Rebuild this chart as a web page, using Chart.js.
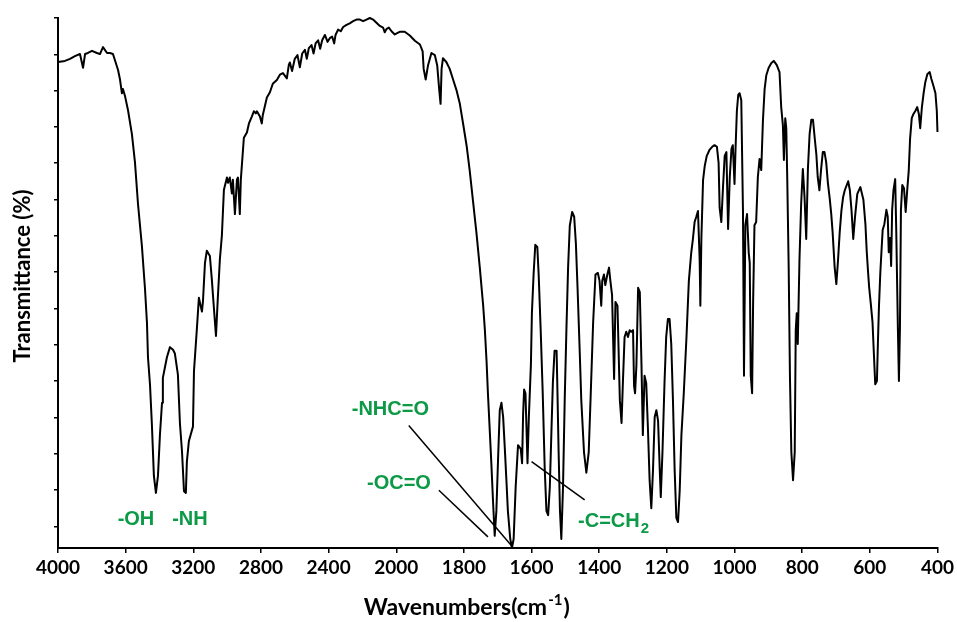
<!DOCTYPE html>
<html><head><meta charset="utf-8">
<script src="https://cdn.jsdelivr.net/npm/chart.js@4.4.1/dist/chart.umd.min.js"></script>
<style>html,body{margin:0;padding:0;background:#fff;}#wrap{width:957px;height:622px;}</style>
</head><body><div id="wrap"><canvas id="c" width="957" height="622"></canvas></div>
<script>
const xTickLabels = ['4000','3600','3200','2800','2400','2000','1800','1600','1400','1200','1000','800','600','400'];
const wavenumbers = [4000,3959,3929,3900,3870,3852,3840,3823,3799,3770,3752,3734,3710,3693,3675,3651,3645,3634,3622,3616,3604,3586,3563,3545,3527,3504,3486,3474,3468,3456,3445,3433,3421,3409,3397,3385,3380,3356,3338,3320,3309,3291,3279,3267,3255,3244,3238,3226,3202,3196,3179,3167,3149,3143,3131,3120,3102,3090,3084,3066,3055,3043,3031,3019,3001,2995,2984,2972,2966,2954,2942,2936,2925,2919,2907,2901,2883,2871,2854,2842,2830,2824,2806,2795,2789,2765,2747,2730,2706,2688,2670,2647,2635,2629,2616,2600,2584,2570,2556,2540,2529,2517,2501,2489,2477,2462,2450,2438,2422,2406,2393,2379,2367,2359,2344,2328,2314,2294,2275,2255,2235,2215,2196,2176,2156,2137,2117,2097,2078,2068,2058,2044,2028,2009,1990,1975,1960,1945,1930,1922,1919,1913,1906,1896,1886,1879,1873,1869,1866,1862,1852,1842,1832,1822,1812,1802,1792,1783,1773,1763,1753,1743,1738,1733,1729,1724,1719,1714,1709,1704,1699,1694,1689,1684,1679,1674,1670,1663,1658,1653,1647,1640,1632,1628,1625,1622,1618,1615,1612,1608,1602,1599,1594,1589,1583,1579,1573,1567,1561,1556,1551,1546,1541,1537,1532,1526,1524,1520,1516,1512,1507,1502,1497,1492,1487,1480,1474,1469,1464,1458,1453,1445,1438,1431,1425,1418,1411,1404,1399,1394,1391,1386,1382,1376,1371,1367,1362,1356,1352,1346,1339,1334,1330,1325,1320,1315,1310,1305,1300,1297,1294,1290,1285,1280,1275,1271,1266,1261,1256,1251,1246,1241,1236,1231,1226,1221,1218,1213,1207,1202,1197,1192,1187,1182,1177,1172,1167,1162,1157,1150,1142,1135,1128,1123,1118,1113,1108,1103,1101,1098,1093,1088,1082,1074,1066,1059,1052,1047,1044,1039,1034,1029,1024,1019,1014,1009,1005,1000,997,993,989,985,980,975,972,968,963,958,955,952,948,945,941,936,931,926,921,916,911,906,899,891,884,875,867,862,857,854,850,847,844,840,836,832,827,822,819,816,813,808,803,798,793,788,783,778,773,768,763,758,754,749,744,739,734,729,724,719,714,710,704,699,694,689,684,679,674,664,659,654,649,644,637,628,619,613,609,605,602,597,592,589,584,579,576,573,569,565,562,557,551,547,544,540,537,534,530,525,522,517,514,511,508,504,499,494,489,485,481,476,471,465,460,455,451,446,441,436,430,423,418,412,406,402,400];
const transmittance = [91.7,91.9,92.3,92.8,93.2,90.6,93.2,93.4,93.8,93.4,93.2,94.5,93.4,93.4,93.2,90.8,90.2,88.5,85.8,86.6,85.3,82.6,78.1,72.8,64.9,57.0,49.1,42.5,36.0,30.8,23.4,13.6,10.4,13.6,21.5,27.4,32.1,36.0,37.9,37.4,36.7,32.7,23.5,18.3,10.7,10.4,16.3,20.2,22.9,33.4,41.3,47.2,44.6,46.5,53.8,56.1,55.1,50.5,47.8,40.0,47.2,54.4,59.0,67.6,69.9,68.9,69.9,66.9,69.5,63.0,69.5,69.9,63.0,69.5,74.8,77.4,78.4,80.1,81.4,82.4,82.0,82.4,81.4,80.1,81.7,85.0,86.0,87.6,88.3,89.3,89.6,88.6,91.2,91.6,90.0,92.3,93.0,90.7,93.3,94.0,92.3,94.3,94.9,93.3,95.2,95.8,94.2,95.8,96.8,95.5,96.2,96.5,95.2,96.8,97.8,97.5,98.3,98.7,99.0,99.4,99.7,99.7,99.4,99.7,100,99.7,99.1,98.5,98.2,97.3,97.9,98.2,97.5,96.9,97.4,97.4,96.7,95.7,95.0,93.7,90.4,88.4,91.1,93.4,93.0,91.1,86.5,83.8,90.4,92.4,91.7,90.4,88.4,86.4,83.8,79.9,75.9,71.3,65.4,59.5,52.9,45.7,41.1,35.2,29.2,22.7,16.1,8.9,2.3,7.0,16.8,26.0,27.4,24.7,18.7,12.3,7.0,1.7,0,1.7,11.5,19.4,18.7,16.0,25.3,29.9,29.2,22.6,16.0,24.7,34.5,44.3,51.6,57.2,56.8,51.6,41.1,29.2,14.8,7.0,6.2,11.5,22.6,31.2,37.2,37.2,31.2,18.1,7.0,1.7,11.5,27.9,41.1,52.9,60.8,63.4,62.5,57.5,49.0,37.8,27.9,18.1,14.2,18.1,29.2,42.5,51.6,51.9,50.4,45.7,50.4,51.6,49.6,51.6,52.9,50.4,47.7,31.9,46.4,45.7,27.9,23.6,31.2,39.8,40.8,39.8,41.1,40.8,41.1,30.6,29.2,34.5,49.1,48.3,34.5,21.3,32.5,31.1,22.6,12.8,7.5,14.7,24.7,26.0,24.0,14.7,9.6,18.1,31.1,39.8,43.2,43.2,38.5,27.9,14.7,5.7,4.9,10.9,21.3,29.2,39.8,50.4,55.7,58.3,61.5,62.5,63.6,54.3,45.7,58.3,69.4,72.1,74.0,75.1,75.7,76.0,75.7,72.6,64.2,61.5,68.1,74.0,74.7,60.2,70.0,75.3,76.0,68.7,75.3,82.5,85.5,85.8,84.5,63.6,32.5,60.9,63.0,55.7,53.8,32.5,29.2,46.4,60.9,61.5,70.0,73.4,71.3,80.6,86.6,89.2,90.6,91.5,91.9,91.1,89.8,83.2,79.8,73.2,81.1,79.2,69.4,53.6,31.9,18.1,12.8,18.1,41.1,44.3,38.5,54.3,64.9,71.5,66.2,58.3,71.5,78.1,80.8,80.8,77.4,74.2,70.0,67.5,71.5,74.7,74.7,72.8,68.9,66.2,63.0,59.6,53.0,49.8,54.3,59.6,63.6,66.2,67.5,69.2,67.5,63.6,58.3,62.3,66.8,68.1,65.7,61.1,55.8,51.9,49.2,46.0,42.6,38.1,30.9,31.5,38.9,45.5,51.9,56.6,60.0,61.1,63.8,62.5,55.8,58.5,53.2,63.8,67.5,69.6,60.4,41.3,31.5,41.3,63.8,68.5,67.9,63.4,67.9,71.1,77.2,81.1,81.9,82.5,83.2,81.9,79.2,83.2,85.8,87.9,89.4,89.8,88.5,87.2,85.8,82.5,78.5];
const yTickStep = 6.85;
const labelTexts = ['-OH','-NH','-NHC=O','-OC=O','-C=CH'];
const labelSubs = ['','','','','2'];
const labelWavenumbers = [3539,3220,2035,1992,1359];
const labelValues = [5.4,5.4,26.2,12.2,5.0];
const leaderStartW = [1963,1874,1600];
const leaderStartT = [23.1,10.9,16.3];
const leaderEndW = [1656,1729,1443];
const leaderEndT = [0.2,2.1,9.1];
const xTitle = 'Wavenumbers(cm';
const xTitleSup = '-1';
const yTitle = 'Transmittance (%)';

// Axis with a change of scale at 2000 cm-1 (400 per step above, 200 per step below)
function toAxis(w){ return w >= 2000 ? (4000 - w) / 400 : 5 + (2000 - w) / 200; }

const GREEN = '#0c9a47';
const TFONT = 'Lato, "Open Sans", sans-serif';
const points = wavenumbers.map((w,i)=>({x: toAxis(w), y: transmittance[i]}));

const annot = {
  id:'annot',
  afterDatasetsDraw(chart){
    const {ctx, scales:{x,y}, chartArea} = chart;
    ctx.save();
    ctx.strokeStyle='#000'; ctx.lineWidth=1.5;
    for(let i=0;i<leaderStartW.length;i++){
      ctx.beginPath();
      ctx.moveTo(x.getPixelForValue(toAxis(leaderStartW[i])), y.getPixelForValue(leaderStartT[i]));
      ctx.lineTo(x.getPixelForValue(toAxis(leaderEndW[i])), y.getPixelForValue(leaderEndT[i]));
      ctx.stroke();
    }
    ctx.fillStyle=GREEN; ctx.textBaseline='middle';
    for(let i=0;i<labelTexts.length;i++){
      const px=x.getPixelForValue(toAxis(labelWavenumbers[i]));
      const py=y.getPixelForValue(labelValues[i]);
      ctx.font='bold 20px "Liberation Sans", Arial, sans-serif';
      const w1=ctx.measureText(labelTexts[i]).width;
      let w2=0;
      if(labelSubs[i]){ ctx.font='bold 15px "Liberation Sans", Arial, sans-serif'; w2=ctx.measureText(labelSubs[i]).width; }
      const start=px-(w1+w2)/2;
      ctx.font='bold 20px "Liberation Sans", Arial, sans-serif';
      ctx.textAlign='left';
      ctx.fillText(labelTexts[i], start, py);
      if(labelSubs[i]){ ctx.font='bold 15px "Liberation Sans", Arial, sans-serif'; ctx.fillText(labelSubs[i], start+w1+1, py+7); }
    }
    // axis titles
    ctx.fillStyle='#000';
    ctx.textBaseline='alphabetic';
    ctx.font='bold 23px '+TFONT;
    const wa=ctx.measureText(xTitle).width;
    ctx.font='bold 15px '+TFONT;
    const wb=ctx.measureText(xTitleSup).width;
    ctx.font='bold 23px '+TFONT;
    const wc=ctx.measureText(')').width;
    const cx=(chartArea.left+chartArea.right)/2-31;
    let sx=cx-(wa+wb+wc+2)/2;
    const by=615;
    ctx.textAlign='left';
    ctx.fillText(xTitle, sx, by);
    ctx.font='bold 15px '+TFONT;
    ctx.fillText(xTitleSup, sx+wa+1, by-10);
    ctx.font='bold 23px '+TFONT;
    ctx.fillText(')', sx+wa+wb+2, by);
    ctx.translate(23,(chartArea.top+chartArea.bottom)/2-7);
    ctx.rotate(-Math.PI/2);
    ctx.textAlign='center'; ctx.textBaseline='middle';
    ctx.font='bold 22px '+TFONT;
    ctx.fillText(yTitle,0,0);
    ctx.restore();
  }
};

function draw(){
  new Chart(document.getElementById('c'),{
    type:'line',
    data:{datasets:[{data:points,borderColor:'#000',borderWidth:2,pointRadius:0,tension:0,fill:false,clip:6,borderJoinStyle:'round'}]},
    options:{
      responsive:false, animation:false, devicePixelRatio:1,
      layout:{padding:{top:18,right:19,left:0,bottom:0}},
      plugins:{legend:{display:false},tooltip:{enabled:false}},
      scales:{
        x:{type:'linear',min:0,max:13,
          afterBuildTicks:(s)=>{s.ticks=xTickLabels.map((l,i)=>({value:i}));},
          afterFit:(s)=>{s.height=74;},
          ticks:{autoSkip:false,maxRotation:0,padding:3,color:'#000',
            font:{family:'Lato',weight:'bold',size:19},
            callback:(v)=>xTickLabels[Math.round(v)]},
          grid:{drawOnChartArea:false,drawTicks:true,tickLength:5,color:'#000',lineWidth:1.5},
          border:{display:true,color:'#000',width:2}},
        y:{type:'linear',min:0,max:100,
          afterBuildTicks:(s)=>{const t=[];for(let v=100;v>=0;v-=yTickStep)t.push({value:v});s.ticks=t;},
          afterFit:(s)=>{s.width=58;},
          ticks:{callback:()=>''},
          grid:{drawOnChartArea:false,drawTicks:true,tickLength:4,color:'#000',lineWidth:1.5},
          border:{display:true,color:'#000',width:2}}
      }
    },
    plugins:[annot]
  });
}
Promise.all([document.fonts.load('bold 19px Lato'),document.fonts.load('bold 20px "Liberation Sans"')]).then(draw,draw);
</script></body></html>
